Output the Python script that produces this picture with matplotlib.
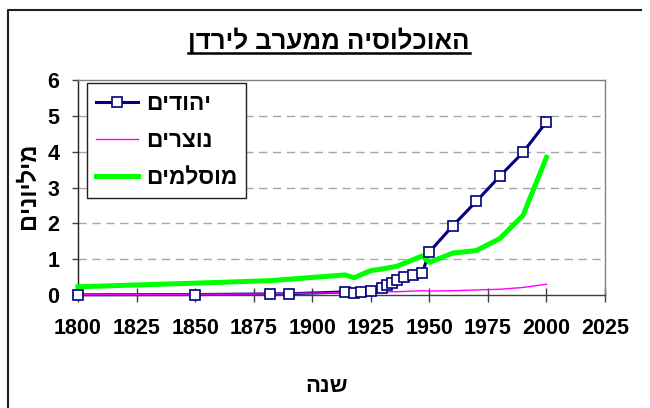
import matplotlib
matplotlib.use("Agg")
import matplotlib.pyplot as plt
from matplotlib.lines import Line2D

plt.rcParams['font.family'] = ['Liberation Sans', 'DejaVu Sans']
plt.rcParams['font.weight'] = 'bold'

def vis(s):
    # Hebrew text is right-to-left; matplotlib draws left-to-right
    return s[::-1]

title = "האוכלוסיה ממערב לירדן"
xlabel = "שנה"
ylabel = "מיליונים"
label_jews = "יהודים"
label_christ = "נוצרים"
label_muslim = "מוסלמים"

years_jews = [1800, 1850, 1882, 1890, 1914, 1918, 1921, 1925, 1930, 1932, 1934,
              1936, 1939, 1943, 1947, 1950, 1960, 1970, 1980, 1990, 2000]
jews = [0.007, 0.012, 0.03, 0.035, 0.085, 0.065, 0.075, 0.12, 0.19, 0.28, 0.34,
        0.42, 0.49, 0.56, 0.62, 1.2, 1.93, 2.61, 3.31, 3.98, 4.83]

years_christ = [1800, 1850, 1882, 1890, 1914, 1918, 1922, 1931, 1936, 1947,
                1950, 1960, 1970, 1980, 1990, 2000]
christ = [0.02, 0.02, 0.03, 0.04, 0.07, 0.06, 0.07, 0.09, 0.09, 0.12,
          0.11, 0.12, 0.14, 0.16, 0.21, 0.30]

years_muslim = [1800, 1850, 1882, 1914, 1918, 1922, 1925, 1931, 1936, 1941,
                1947, 1950, 1960, 1970, 1980, 1990, 2000]
muslim = [0.23, 0.33, 0.40, 0.56, 0.48, 0.60, 0.68, 0.74, 0.80, 0.93,
          1.09, 0.91, 1.17, 1.24, 1.57, 2.22, 3.84]

xticks = [1800, 1825, 1850, 1875, 1900, 1925, 1950, 1975, 2000, 2025]
yticks = [0, 1, 2, 3, 4, 5, 6]

NAVY = '#000080'
fig = plt.figure(figsize=(6.5, 4.08), dpi=100)
ax = fig.add_axes([78/650, 1 - 295/408, (605-78)/650, (295-80)/408])

ax.plot(years_jews, jews, color=NAVY, lw=2.2, zorder=2, clip_on=False)
lc, = ax.plot(years_christ, christ, color='#FF00FF', lw=1.0, zorder=3, clip_on=False)
lm, = ax.plot(years_muslim, muslim, color='#00FF00', lw=3.6, zorder=3.5,
              solid_joinstyle='round', clip_on=False)
ax.plot(years_jews, jews, ls='none', marker='s', ms=7.2, mfc='white',
        mec=NAVY, mew=1.2, zorder=4, clip_on=False)

ax.set_xlim(1800, 2025)
ax.set_ylim(0, 6)
ax.set_xticks(xticks)
ax.set_yticks(yticks)
ax.set_xticklabels([str(t) for t in xticks])
ax.set_yticklabels([str(t) for t in yticks])
ax.tick_params(axis='x', direction='inout', length=10.5, width=1, color='#404040',
               pad=11, labelsize=15.5)
ax.tick_params(axis='y', direction='out', length=4.5, width=1, color='#404040',
               pad=9, labelsize=15.5)
for lab in ax.get_xticklabels() + ax.get_yticklabels():
    lab.set_fontweight('bold')

for y in yticks[1:-1]:
    ax.axhline(y, color='#A6A6A6', lw=1.0, ls=(0, (6, 4)), zorder=1)

ax.spines['left'].set_color('#202020')
ax.spines['bottom'].set_color('#404040')
ax.spines['top'].set_color('#808080')
ax.spines['right'].set_color('#808080')
for sp in ax.spines.values():
    sp.set_linewidth(1.0)

proxy = Line2D([], [], color=NAVY, lw=2.2, marker='s', ms=7.2, mfc='white',
               mec=NAVY, mew=1.2)
leg = ax.legend([proxy, lc, lm], [vis(label_jews), vis(label_christ), vis(label_muslim)],
                loc='upper left', bbox_to_anchor=(0.017, 0.986), borderaxespad=0,
                fancybox=False, framealpha=1, edgecolor='#202020',
                prop={'weight': 'bold', 'size': 16.3}, handlelength=1.85,
                labelspacing=0.62, borderpad=0.4, handletextpad=0.35, numpoints=1)
leg.get_frame().set_linewidth(1.0)
leg.set_zorder(10)

fig.text(28/650, 1 - 186/408, vis(ylabel), rotation=90, ha='center', va='center',
         fontsize=17, fontweight='bold')
fig.text(327/650, 1 - 386/408, vis(xlabel), ha='center', va='center',
         fontsize=16, fontweight='bold')
t = fig.text(329/650, 1 - 41/408, vis(title), ha='center', va='center',
             fontsize=18.5, fontweight='bold')

# underline title
fig.canvas.draw()
bb = t.get_window_extent()
uy = bb.y0 + 1
fig.add_artist(Line2D([bb.x0, bb.x1], [uy, uy], transform=None, color='black', lw=1.8))

# outer chart frame (left and top visible)
fig.add_artist(Line2D([8, 8, 641], [0, 398, 398], transform=None, color='#202020',
                      lw=1.5))

fig.savefig('out.png', dpi=100, facecolor='white')
